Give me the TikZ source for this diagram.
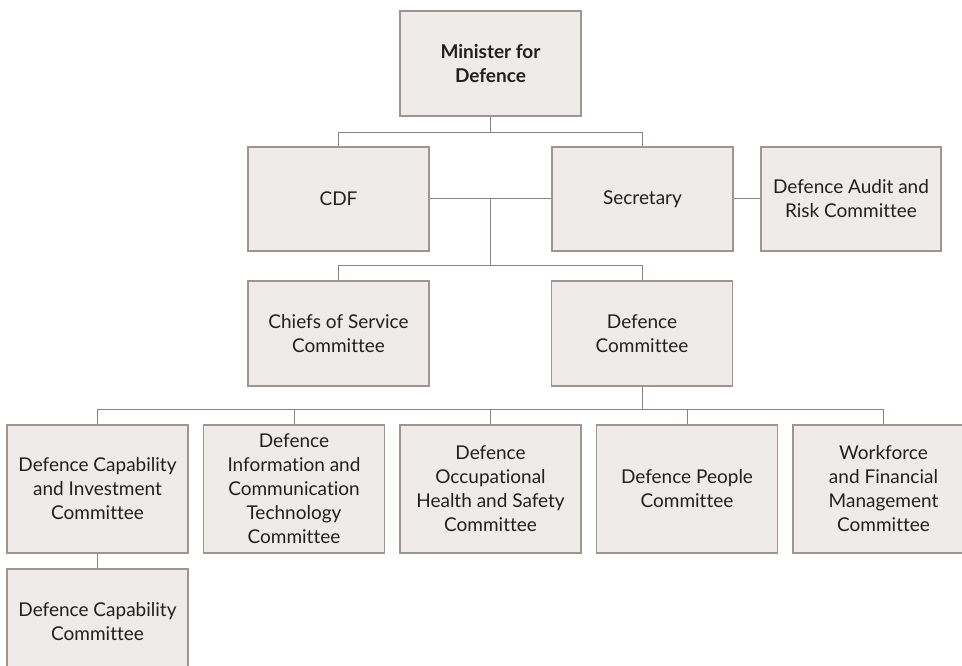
\documentclass[tikz,border=0pt]{standalone}
\usepackage{fontspec}
\setmainfont{Lato}[Ligatures=NoCommon]
\usepackage{xcolor}
\usepackage{tikz}
\usetikzlibrary{calc}
\definecolor{OrgFill}{HTML}{EFEBEA}
\definecolor{OrgEdge}{HTML}{A0948F}
\definecolor{OrgLink}{HTML}{8F827D}
\definecolor{OrgInk}{HTML}{231F20}

\tikzset{
  orgbox/.style={rectangle,draw=OrgEdge,fill=OrgFill,line width=1.2pt,
    minimum width=181pt,minimum height=105pt,inner sep=0pt,align=center,
    text=OrgInk,font=\fontsize{19}{24}\selectfont},
  lowbox/.style={orgbox,minimum height=128pt},
  orglink/.style={draw=OrgLink,line width=1pt}
}

\begin{document}
\begin{tikzpicture}[x=1pt,y=-1pt]
  \clip (0,0) rectangle (962,666);
  \fill[white] (0,0) rectangle (962,666);
  \node[orgbox,font=\fontsize{19}{24}\selectfont\bfseries] (minister) at (490.5,63.5)
    {Minister for\\Defence};
  \node[orgbox,minimum height=104pt] (cdf) at (338.5,199) {CDF};
  \node[orgbox,minimum height=104pt] (secretary) at (642.5,199) {Secretary};
  \node[orgbox,minimum height=104pt,minimum width=180pt] (audit) at (851,199)
    {Defence Audit and\\Risk Committee};
  \node[orgbox] (chiefs) at (338.5,333.5) {Chiefs of Service\\Committee};
  \node[orgbox] (defcom) at (642,333.5) {Defence\\Committee};
  \node[lowbox] (capinv) at (97.5,489)
    {Defence Capability\\and Investment\\Committee};
  \node[lowbox] (ict) at (294,489)
    {Defence\\Information and\\Communication\\Technology\\Committee};
  \node[lowbox] (ohs) at (490.5,489)
    {Defence\\Occupational\\Health and Safety\\Committee};
  \node[lowbox] (people) at (687,489) {Defence People\\Committee};
  \node[lowbox] (workforce) at (883.5,489)
    {Workforce\\and Financial\\Management\\Committee};
  \node[orgbox] (capcom) at (97.5,621.5) {Defence Capability\\Committee};

  \draw[orglink] (minister.south) -- ++(0,16) -| (cdf.north);
  \draw[orglink] (minister.south) -- ++(0,16) -| (secretary.north);
  \draw[orglink] (cdf.east) -- (secretary.west);
  \draw[orglink] (secretary.east) -- (audit.west);
  \coordinate (split) at ($(cdf.east)!0.5!(secretary.west)$);
  \draw[orglink] (split) -- ++(0,66) -| (chiefs.north);
  \draw[orglink] (split) -- ++(0,66) -| (defcom.north);
  \foreach \sub in {capinv,ict,ohs,people,workforce}
    \draw[orglink] (defcom.south) -- ++(0,23) -| (\sub.north);
  \draw[orglink] (capinv.south) -- (capcom.north);
\end{tikzpicture}
\end{document}
